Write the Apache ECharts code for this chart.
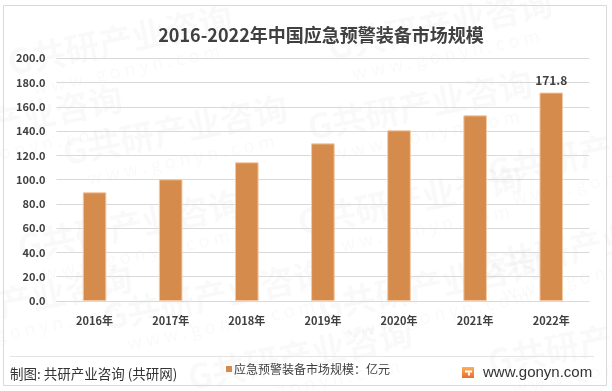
<!DOCTYPE html>
<html><head><meta charset="utf-8">
<script src="https://cdn.jsdelivr.net/npm/echarts@6/dist/echarts.min.js"></script>
<style>html,body{margin:0;padding:0;background:#fff}#c{width:612px;height:391px}</style>
</head><body><div id="c"></div>
<script>
const categories = ['2016年','2017年','2018年','2019年','2020年','2021年','2022年'];
const marketSize = [89.6, 100.3, 114.3, 129.9, 140.7, 153.0, 171.8];
const yTicks = [0, 20, 40, 60, 80, 100, 120, 140, 160, 180, 200];
const seriesName = '应急预警装备市场规模：亿元';
const titleText = '2016-2022年中国应急预警装备市场规模';
const sourceText = '制图: 共研产业咨询 (共研网)';
const siteText = 'www.gonyn.com';

const FONT = '"Noto Sans CJK SC","Noto Sans",sans-serif';
const chart = echarts.init(document.getElementById('c'), null, {renderer:'canvas'});

const wmPos = [[120,40],[440,25],[175,130],[420,105],[600,150],[410,200],[130,225],[590,245],[215,295],[430,285],[10,120],[20,300],[600,340],[300,355]];
const watermarks = [];
wmPos.forEach(p => {
  watermarks.push({
    type:'group', x:p[0], y:p[1], rotation: 0.2, silent:true, z:0,
    children:[
      {type:'text', style:{text:'G共研产业咨询', x:0, y:0, align:'center', verticalAlign:'middle', font:'bold 34px '+FONT, fill:'rgba(0,0,0,0.025)'}},
      {type:'text', style:{text:'w w w . g o n y n . c o m', x:0, y:30, align:'center', verticalAlign:'middle', font:'18px '+FONT, fill:'rgba(0,0,0,0.025)'}}
    ]
  });
});

chart.setOption({
  animation:false,
  backgroundColor:'#fff',
  title:{text:titleText, left:316, top:30, textAlign:'center', textVerticalAlign:'middle',
    textStyle:{fontFamily:FONT, fontSize:18, fontWeight:'bold', color:'#404040'}},
  grid:{left:56.5, right:22.7, top:58.3, bottom:90},
  xAxis:{type:'category', data:categories,
    axisLine:{show:true, lineStyle:{color:'#d9d9d9', width:1}},
    axisTick:{show:false},
    axisLabel:{fontFamily:FONT, fontSize:11, color:'#404040', fontWeight:'bold', margin:14}},
  yAxis:{type:'value', min:yTicks[0], max:yTicks[yTicks.length-1], interval:20,
    axisLine:{show:false}, axisTick:{show:false},
    splitLine:{lineStyle:{color:'#d9d9d9', width:1}},
    axisLabel:{fontFamily:FONT, fontSize:11, color:'#404040', fontWeight:'bold', margin:11,
      formatter:v => v.toFixed(1)}},
  legend:{show:false},
  series:[{
    name:seriesName, type:'bar', data:marketSize, barWidth:'31%', z:3,
    itemStyle:{color:'#D48B4C', borderColor:'#F2C9A4', borderWidth:1},
    label:{show:true, position:'top', distance:6, fontFamily:FONT, fontSize:12, fontWeight:'bold', color:'#404040',
      formatter:p => p.dataIndex === marketSize.length-1 ? p.value.toFixed(1) : ''}
  }],
  graphic:[
    ...watermarks,
    {type:'rect', silent:true, z:10, shape:{x:3.5, y:5.5, width:603, height:380}, style:{fill:'none', stroke:'#d9d9d9', lineWidth:1}},
    {type:'line', silent:true, z:10, shape:{x1:10, y1:356.5, x2:594, y2:356.5}, style:{stroke:'#e3e3e3', lineWidth:1}},
    {type:'text', z:10, style:{text:sourceText, x:10, y:374, verticalAlign:'middle', font:'13.5px '+FONT, fill:'#333'}},
    {type:'rect', z:10, shape:{x:226, y:366, width:6, height:6}, style:{fill:'#D48B4C'}},
    {type:'text', z:10, style:{text:seriesName, x:234, y:369.5, verticalAlign:'middle', font:'12px '+FONT, fill:'#404040'}},
    {type:'rect', z:10, shape:{x:462, y:367, width:12, height:11}, style:{fill:new echarts.graphic.LinearGradient(0,0,0,1,[{offset:0,color:'#F9B25A'},{offset:1,color:'#EC6A2C'}])}},
    {type:'rect', z:11, shape:{x:465, y:370.5, width:7, height:2}, style:{fill:'#fff'}},
    {type:'rect', z:11, shape:{x:468, y:372.5, width:2, height:3}, style:{fill:'#fff'}},
    {type:'text', z:10, style:{text:siteText, x:483, y:373, verticalAlign:'middle', font:'15px "Liberation Sans",Arial,sans-serif', fill:'#333'}}
  ]
});
</script></body></html>
